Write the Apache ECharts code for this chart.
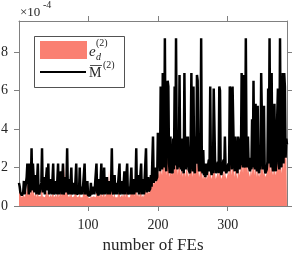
<!DOCTYPE html>
<html><head><meta charset="utf-8">
<script src="https://cdn.jsdelivr.net/npm/echarts@6/dist/echarts.min.js"></script>
<style>html,body{margin:0;padding:0;background:#fff}#c{width:294px;height:253px}</style>
</head><body><div id="c"></div>
<script>
// values in units of 1e-4
const mBar = [
1.2,1.0,0.7,0.6,0.55,0.6,0.7,1.3,0.6,0.55,
0.7,1.5,2.2,1.8,0.6,2.2,0.7,1.2,3.0,0.8,
2.2,2.3,0.7,0.6,1.6,0.6,0.55,2.2,0.8,0.6,
0.55,0.6,1.2,3.0,0.7,0.6,1.5,0.6,0.55,0.7,
2.0,0.8,2.2,0.6,0.55,0.6,1.4,0.6,0.7,2.2,
0.6,0.55,0.6,1.3,0.6,0.7,2.2,0.6,0.55,0.6,
1.8,0.6,0.7,2.2,0.6,0.8,1.5,0.7,1.2,3.0,
0.8,0.6,1.4,0.6,0.55,2.0,0.6,0.6,0.55,1.2,
0.6,0.7,2.2,0.6,0.55,0.6,0.7,2.0,0.6,0.55,
1.0,0.6,0.55,0.6,2.2,0.6,0.55,0.6,1.3,0.55,
0.5,0.6,0.55,1.2,0.6,0.5,0.55,1.0,0.6,0.55,
0.6,2.2,0.7,0.6,0.55,1.4,0.6,0.7,2.2,0.6,
0.55,0.8,2.0,0.6,0.55,0.6,1.5,0.6,0.55,1.3,
0.6,0.7,1.2,3.0,0.8,0.6,0.55,1.6,0.6,0.55,
1.2,0.6,0.55,0.7,2.2,0.6,0.55,0.6,1.3,0.6,
0.55,1.8,0.6,0.7,0.6,2.2,0.6,0.55,1.0,0.6,
0.55,2.0,0.6,0.6,1.4,0.6,0.7,1.2,3.0,0.7,
0.6,1.6,0.6,0.55,0.6,2.2,0.6,0.7,1.4,0.6,
0.6,0.7,3.0,0.7,0.65,1.5,0.75,0.8,0.9,1.6,
1.0,1.1,3.6,1.2,1.3,2.0,1.3,1.4,1.5,3.8,
2.0,3.3,1.8,6.2,2.4,1.9,6.9,3.5,2.0,8.7,
2.5,1.8,4.0,6.5,6.2,2.2,1.7,3.6,1.9,2.0,
1.7,3.5,1.9,6.2,2.1,8.7,2.8,1.9,3.6,2.0,
6.8,2.4,1.9,3.5,1.8,2.0,1.7,6.9,2.5,1.9,
3.6,2.0,3.6,1.9,1.8,1.7,3.2,6.9,2.4,1.8,
6.2,2.0,1.7,3.6,2.2,6.8,6.5,2.5,1.8,2.1,
1.8,8.7,2.0,1.7,2.9,1.6,1.8,1.5,2.2,1.6,
1.7,1.5,2.4,1.8,6.2,1.9,1.6,2.0,1.7,6.1,
6.2,2.2,1.7,1.8,1.6,2.3,1.7,6.2,6.0,2.0,
1.6,1.7,1.5,2.4,1.8,3.6,2.0,1.7,1.8,1.6,
2.2,1.8,6.2,6.0,2.6,1.9,6.2,6.1,2.3,1.8,
3.6,3.5,2.0,1.7,3.6,3.4,1.9,1.8,2.4,6.9,
2.6,2.0,6.8,2.2,2.0,8.7,2.8,2.0,3.6,2.1,
2.0,1.8,2.5,1.9,4.5,2.0,6.5,2.4,1.9,5.3,
2.2,1.8,5.2,2.0,1.7,2.2,1.9,6.9,6.8,2.4,
1.9,5.2,2.0,1.7,1.8,1.9,2.3,6.1,2.2,8.7,
2.6,2.0,6.9,2.2,1.8,2.0,5.3,2.2,1.8,1.9,
1.7,6.1,2.2,1.9,8.7,2.5,2.0,2.0,6.9,2.2,
6.9,6.2,2.5,3.5,3.2
];
const eD = [
1.2,0.9,0.6,0.5,0.45,0.45,0.5,0.6,0.45,0.45,
0.5,0.8,1.2,1.0,0.5,1.2,0.6,0.8,2.0,0.6,
1.2,1.0,0.5,0.45,0.7,0.45,0.45,0.9,0.5,0.45,
0.45,0.5,0.8,1.7,0.5,0.45,0.6,0.45,0.4,0.45,
0.8,0.5,1.0,0.45,0.4,0.45,0.6,0.45,0.5,0.9,
0.45,0.4,0.45,0.6,0.45,0.5,1.0,0.45,0.4,0.45,
0.8,0.5,0.6,1.2,0.8,2.2,0.9,0.6,0.8,2.3,
0.6,0.45,0.6,0.45,0.4,0.8,0.45,0.45,0.4,0.5,
0.45,0.5,0.9,0.45,0.4,0.45,0.5,0.8,0.45,0.4,
0.5,0.45,0.4,0.45,1.0,0.5,0.45,0.6,1.0,0.45,
0.4,0.45,0.4,0.6,0.45,0.4,0.4,0.5,0.45,0.4,
0.45,0.9,0.5,0.45,0.4,0.6,0.45,0.5,0.9,0.45,
0.4,0.5,0.8,0.45,0.4,0.45,0.7,1.2,1.0,1.9,
0.6,0.5,0.6,1.2,0.6,0.45,0.4,0.7,0.45,0.4,
0.5,0.45,0.4,0.5,1.0,0.45,0.4,0.45,0.6,0.45,
0.4,0.8,0.45,0.5,0.45,1.0,0.45,0.4,0.5,0.45,
0.4,0.9,0.6,1.9,0.8,0.5,0.5,0.6,1.3,0.5,
0.45,0.7,0.45,0.4,0.45,1.0,0.45,0.5,0.6,0.45,
0.5,0.55,1.4,0.6,0.6,0.9,0.65,0.7,0.8,1.0,
0.9,1.0,1.8,1.1,1.2,1.4,1.2,1.3,1.4,2.0,
1.6,2.0,1.5,2.9,1.8,1.6,3.2,2.8,1.7,4.0,
2.0,1.6,2.8,5.5,3.0,1.8,1.5,2.2,1.6,1.7,
1.5,2.2,1.6,3.0,1.8,5.0,2.4,1.6,2.5,1.7,
3.0,1.9,1.6,2.2,1.5,1.6,1.4,2.8,1.8,1.5,
2.2,1.6,2.0,1.5,1.5,1.4,2.0,2.8,1.8,1.5,
2.6,1.6,1.5,2.4,1.9,3.3,3.2,2.0,1.5,1.7,
1.6,6.9,1.7,1.4,2.0,1.4,1.5,1.3,1.7,1.4,
1.4,1.3,1.8,1.5,2.4,1.6,1.4,1.6,1.5,2.2,
2.4,1.7,1.4,1.5,1.4,1.8,1.5,2.3,2.2,1.6,
1.4,1.5,1.3,1.8,1.5,2.2,1.6,1.4,1.5,1.4,
1.8,1.6,2.6,2.5,2.0,1.6,2.4,2.3,1.8,1.5,
2.2,2.1,1.6,1.4,2.2,2.0,1.6,1.5,2.0,3.1,
2.2,1.7,3.2,5.6,1.8,6.8,2.4,1.7,2.4,1.8,
1.7,1.5,2.0,1.6,2.3,1.7,2.8,2.0,1.6,2.4,
1.8,1.5,2.3,1.7,1.5,1.8,1.6,2.8,2.7,2.0,
1.6,2.3,1.7,1.5,1.6,1.7,5.4,2.6,1.9,5.2,
2.1,1.7,2.8,1.8,1.6,1.7,2.3,1.8,1.6,1.6,
1.5,2.5,1.8,1.7,6.1,2.1,1.7,1.8,2.8,1.9,
3.0,2.7,2.4,3.0,3.0
];
const xTicks = [100, 200, 300];
const yTicks = [0, 2, 4, 6, 8];
const fe = [];
for (let i = 1; i <= mBar.length; i++) fe.push(i);

const FONT = '"Liberation Serif", "DejaVu Serif", serif';
const axisCol = '#808080';
const txtCol = '#262626';
const chart = echarts.init(document.getElementById('c'), null, {renderer: 'canvas'});
const xCommon = {type: 'value', min: 1, max: 385, axisLine: {show: true, onZero: false, lineStyle: {color: axisCol, width: 1}},
  splitLine: {show: false}, axisTick: {show: true, inside: false, length: 5, lineStyle: {color: axisCol}, customValues: xTicks}};
const yCommon = {type: 'value', min: 0, max: 9.6, axisLine: {show: true, onZero: false, lineStyle: {color: axisCol, width: 1}},
  splitLine: {show: false}, axisTick: {show: true, inside: false, length: 5, lineStyle: {color: axisCol}, customValues: yTicks}};
chart.setOption({
  animation: false,
  grid: {left: 19, right: 7, top: 21, bottom: 47, containLabel: false, outerBoundsMode: 'none'},
  xAxis: [
    Object.assign({}, xCommon, {position: 'bottom', name: 'number of FEs', nameLocation: 'middle', nameGap: 30,
      nameTextStyle: {fontFamily: FONT, fontSize: 17, color: txtCol},
      axisLabel: {show: true, margin: 12, fontFamily: FONT, fontSize: 14, color: txtCol, customValues: xTicks}}),
    Object.assign({}, xCommon, {position: 'top', axisLabel: {show: false}})
  ],
  yAxis: [
    Object.assign({}, yCommon, {position: 'left', axisLabel: {show: true, margin: 11, fontFamily: FONT, fontSize: 14, color: txtCol, customValues: yTicks}}),
    Object.assign({}, yCommon, {position: 'right', axisLabel: {show: false}})
  ],
  series: [
    {name: 'e', type: 'line', data: fe.map((x, i) => [x, eD[i]]), showSymbol: false, symbol: 'none',
      lineStyle: {width: 0}, areaStyle: {color: '#fa8072', opacity: 1, origin: 'start'}, z: 2},
    {name: 'M', type: 'line', data: fe.map((x, i) => [x, mBar[i]]), showSymbol: false, symbol: 'none',
      lineStyle: {color: '#000', width: 2.5, join: 'bevel'}, z: 3}
  ],
  graphic: [
    {type: 'text', left: 20, top: 6, style: {text: '×10', font: '13px ' + FONT, fill: txtCol}},
    {type: 'text', left: 43, top: 0, style: {text: '-4', font: '10px ' + FONT, fill: txtCol}},
    {type: 'rect', z: 100, shape: {x: 34.5, y: 36.5, width: 90, height: 51}, style: {fill: '#fff', stroke: '#262626', lineWidth: 0.8}},
    {type: 'rect', z: 101, shape: {x: 40, y: 41, width: 47, height: 18}, style: {fill: '#fa8072'}},
    {type: 'line', z: 101, shape: {x1: 40, y1: 72, x2: 86, y2: 72}, style: {stroke: '#000', lineWidth: 2}},
    {type: 'text', z: 101, x: 89, y: 45, style: {text: 'e', font: 'italic 15px ' + FONT, fill: txtCol}},
    {type: 'text', z: 101, x: 96, y: 52, style: {text: 'd', font: 'italic 10px ' + FONT, fill: txtCol}},
    {type: 'text', z: 101, x: 96, y: 38, style: {text: '(2)', font: '10px ' + FONT, fill: txtCol}},
    {type: 'text', z: 101, x: 89, y: 66, style: {text: 'M', font: '14px ' + FONT, fill: txtCol}},
    {type: 'line', z: 101, shape: {x1: 90, y1: 65.5, x2: 102, y2: 65.5}, style: {stroke: txtCol, lineWidth: 0.8}},
    {type: 'text', z: 101, x: 103, y: 60, style: {text: '(2)', font: '10px ' + FONT, fill: txtCol}}
  ]
});
</script></body></html>
